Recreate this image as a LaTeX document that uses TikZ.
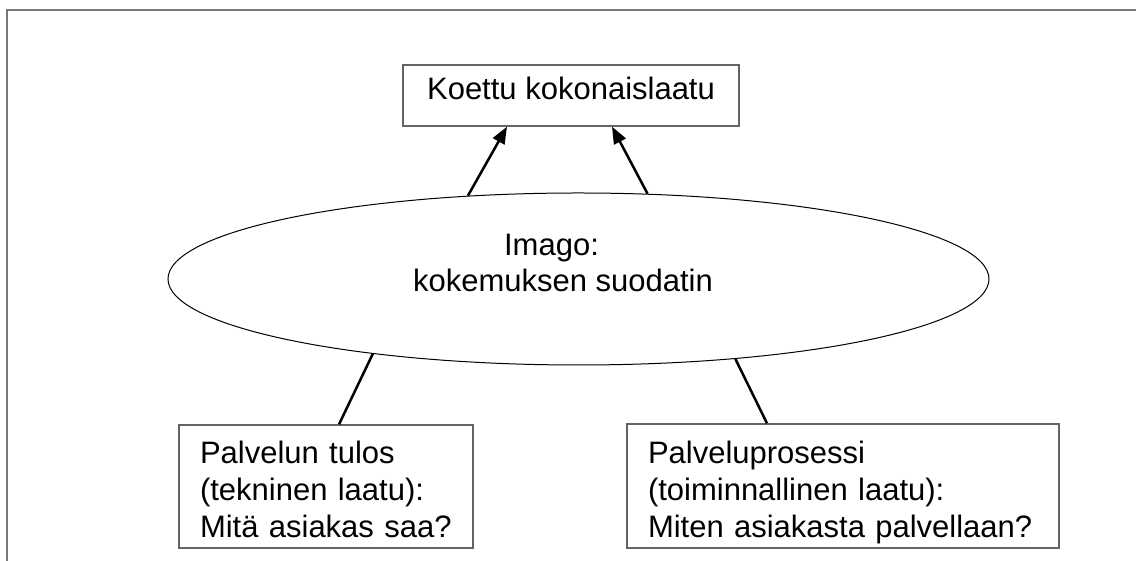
\documentclass[tikz,border=0pt]{standalone}
\usepackage{fontspec}
\setmainfont{Liberation Sans}
\usetikzlibrary{shapes.geometric,arrows.meta,calc}
\definecolor{framegray}{RGB}{120,120,120}
\definecolor{boxgray}{RGB}{100,100,100}
\begin{document}
\begin{tikzpicture}[x=1pt,y=1pt,
  box/.style={draw=boxgray, line width=1.3pt, inner sep=0pt, font=\fontsize{31}{37}\selectfont},
  oval/.style={draw=black, line width=1pt, ellipse, inner sep=0pt, align=center, font=\fontsize{31}{36}\selectfont},
  arr/.style={line width=2.5pt, -{Triangle[length=17pt,width=13pt]}},
  link/.style={line width=2.5pt},
  frameline/.style={draw=framegray, line width=2pt}]
\useasboundingbox (0,0) rectangle (1136,561);
\draw[frameline] (7,0) -- (7,551) -- (1136,551);
\node[box, minimum width=336pt, minimum height=61pt] (koettu) at (571,465.5)
  {\rule[-16pt]{0pt}{41pt}Koettu kokonaislaatu};
\node[oval, minimum width=821pt, minimum height=172pt] (imago) at (578.5,282)
  {\rule{0pt}{25pt}Imago:\makebox[54pt]{}\\kokemuksen suodatin\makebox[31pt]{}\rule[-35pt]{0pt}{35pt}};
\node[box, minimum width=294pt, minimum height=123pt, text width=252pt, align=left] (tulos) at (326,74.5)
  {\rule{0pt}{36pt}Palvelun tulos\\(tekninen laatu):\\Mitä asiakas saa?\rule[-7pt]{0pt}{7pt}};
\node[box, minimum width=432pt, minimum height=124pt, text width=390pt, align=left] (prosessi) at (843,75)
  {\rule{0pt}{36pt}Palveluprosessi\\(toiminnallinen laatu):\\Miten asiakasta palvellaan?\rule[-7pt]{0pt}{7pt}};
\draw[arr] (imago.143.1) -- ($(koettu.south)+(-64,0)$);
\draw[arr] (imago.51.1) -- ($(koettu.south)+(41,0)$);
\draw[link] (imago.200.5) -- ($(tulos.north)+(13,0)$);
\draw[link] (imago.333.5) -- ($(prosessi.north)+(-76,0)$);
\end{tikzpicture}
\end{document}
